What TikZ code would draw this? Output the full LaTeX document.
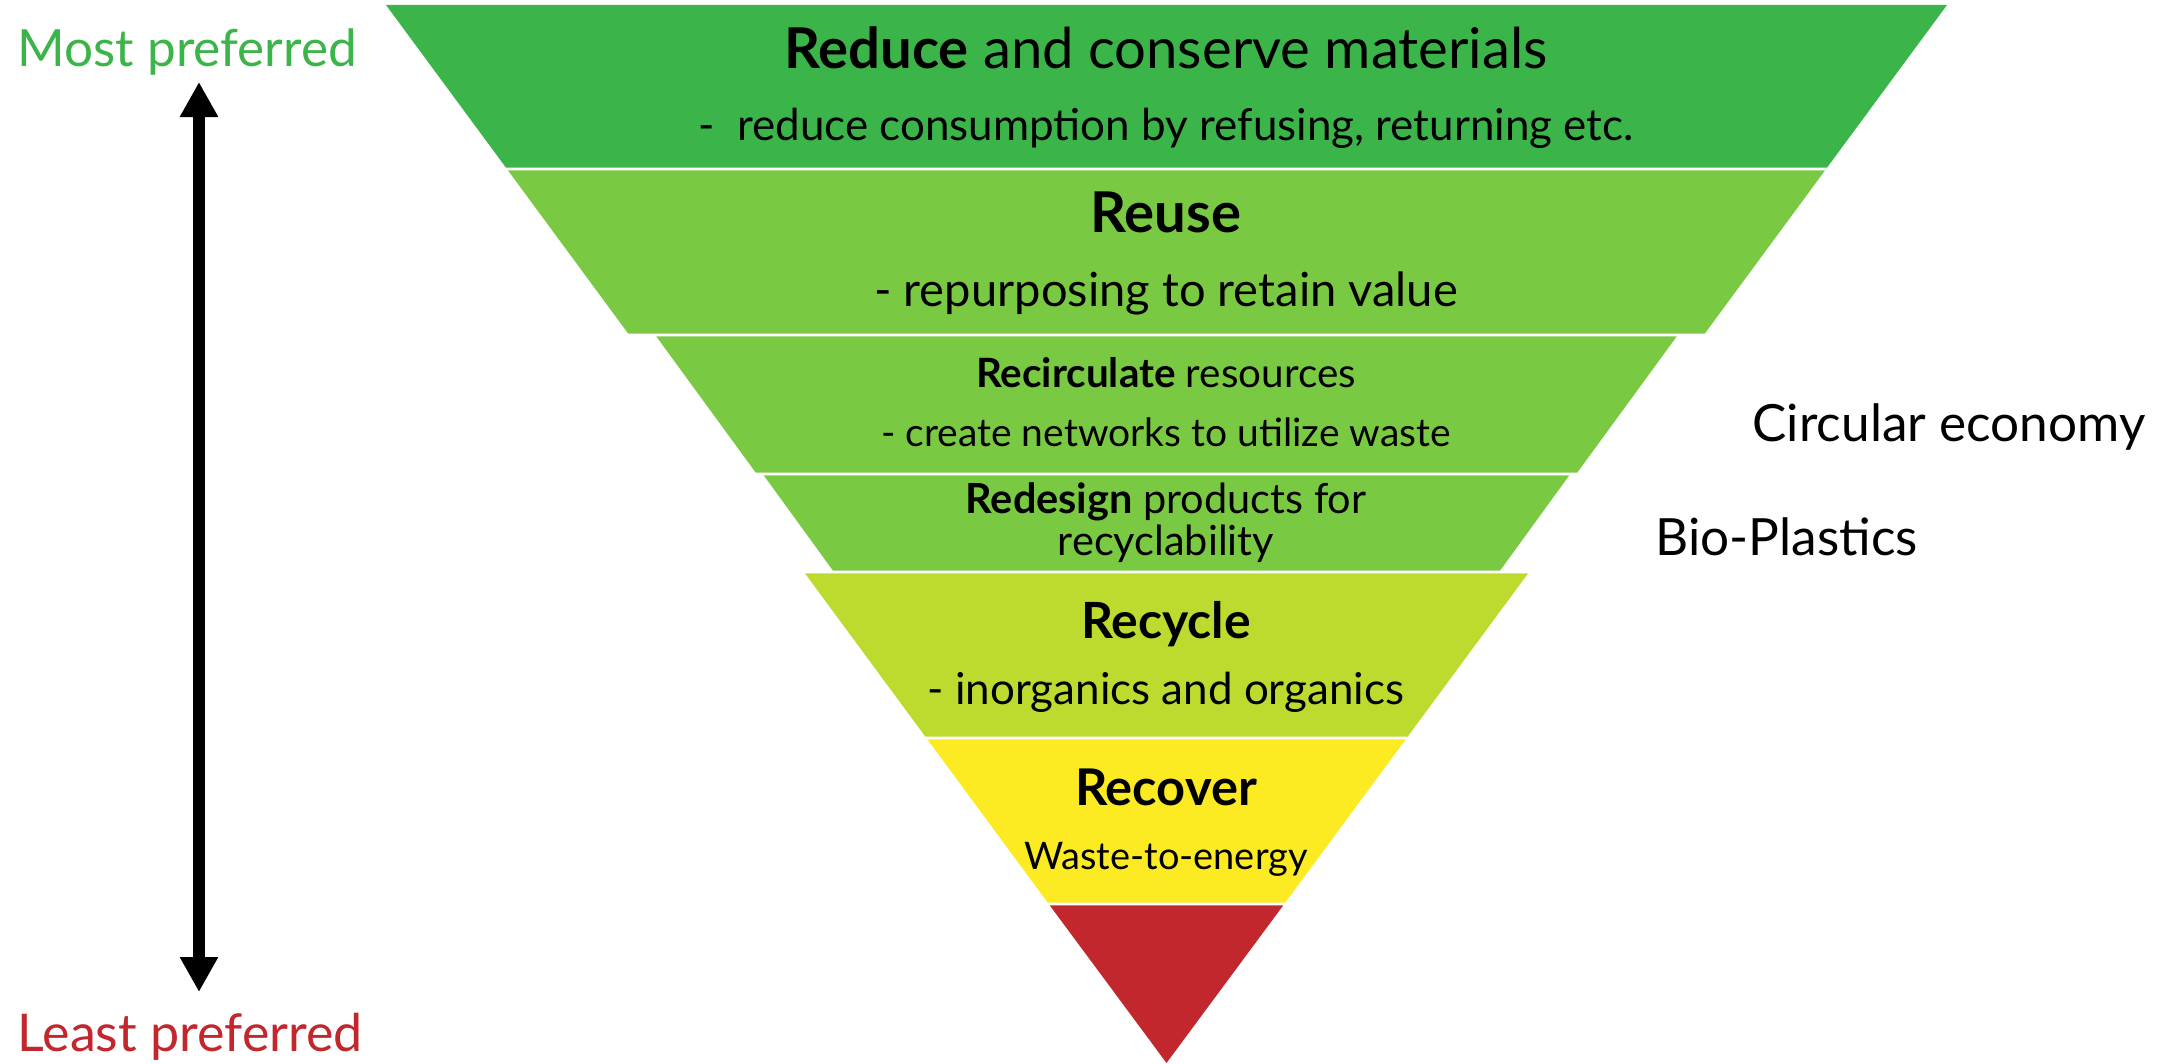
\documentclass[tikz,border=0pt]{standalone}
\usepackage{fontspec}
\setmainfont{Lato}
\usetikzlibrary{arrows.meta}
\definecolor{reducegreen}{RGB}{59,181,74}
\definecolor{reusegreen}{RGB}{122,201,67}
\definecolor{recyclelime}{RGB}{188,219,47}
\definecolor{recoveryellow}{RGB}{252,235,34}
\definecolor{disposered}{RGB}{193,39,45}
\tikzset{big/.style={anchor=base, inner sep=0pt, font=\fontsize{16}{19}\selectfont}}
\tikzset{small/.style={anchor=base, inner sep=0pt, font=\fontsize{12.5}{15}\selectfont}}
\tikzset{side/.style={anchor=base west, inner sep=0pt, font=\fontsize{14.6}{17.5}\selectfont}}
\tikzset{updown/.style={{Triangle[length=3.5mm,width=3.6mm]}-{Triangle[length=3.5mm,width=3.6mm]}, line width=1.2mm}}

\begin{document}
\begin{tikzpicture}[x=0.1mm, y=-0.1mm]
        \useasboundingbox (0,0) rectangle (2168,1064);

        % the bands of the funnel
        \fill[reducegreen] (386,5) -- (1947,5) -- (1827,167.7) -- (506,167.7) -- cycle;
        \fill[reusegreen] (507.9,170.3) -- (1825.1,170.3) -- (1704.7,333.7) -- (628.3,333.7) -- cycle;
        \fill[reusegreen] (656.2,336.3) -- (1676.8,336.3) -- (1577.2,472.7) -- (755.8,472.7) -- cycle;
        \fill[reusegreen] (763.7,475.3) -- (1569.3,475.3) -- (1500,570.7) -- (833,570.7) -- cycle;
        \fill[recyclelime] (804.9,573.3) -- (1528.1,573.3) -- (1407.6,736.7) -- (925.4,736.7) -- cycle;
        \fill[recoveryellow] (927.3,739.3) -- (1405.7,739.3) -- (1285.2,902.7) -- (1047.8,902.7) -- cycle;
        \fill[disposered] (1049.7,905.3) -- (1283.3,905.3) -- (1166.5,1063) -- cycle;

        \node[big] (reduce) at (1166,68) {\textbf{Reduce} and conserve materials};
        \node[small] (reducesub) at (1166,140) {-\ \ reduce consumption by refusing, returning etc.};

        \node[big] (reuse) at (1166,232) {\textbf{Reuse}};
        \node[small, font=\fontsize{13.4}{16}\selectfont] (reusesub) at (1166,306.7) {- repurposing to retain value};

        \node[small, font=\fontsize{11.5}{13.5}\selectfont] (recirc) at (1166,387.7) {\textbf{Recirculate} resources};
        \node[small, font=\fontsize{11.1}{13}\selectfont] (recircsub) at (1166,446) {- create networks to utilize waste};

        \node[small, font=\fontsize{11.8}{11.7}\selectfont, align=center] (redesign) at (1166,555) {\textbf{Redesign} products for\\recyclability};

        \node[big, font=\fontsize{14.2}{17}\selectfont] (recycle) at (1166,638) {\textbf{Recycle}};
        \node[small] (recyclesub) at (1166,704) {- inorganics and organics};

        \node[big, font=\fontsize{14.4}{17}\selectfont] (recover) at (1166,805) {\textbf{Recover}};
        \node[small, font=\fontsize{10.8}{13}\selectfont] (recoversub) at (1166,869) {Waste-to-energy};

        \node[side] (circular) at (1752,441.7) {Circular economy};
        \node[side] (bioplastics) at (1655,555) {Bio-Plastics};

        % preference scale
        \node[side, text=reducegreen] (most) at (17,66.7) {Most preferred};
        \node[side, text=disposered, font=\fontsize{14.8}{17.5}\selectfont] (least) at (17,1051.7) {Least preferred};
        \coordinate (up) at (199,82);
        \coordinate (down) at (199,992);
        \draw[updown] (up) -- (down);
\end{tikzpicture}
\end{document}
